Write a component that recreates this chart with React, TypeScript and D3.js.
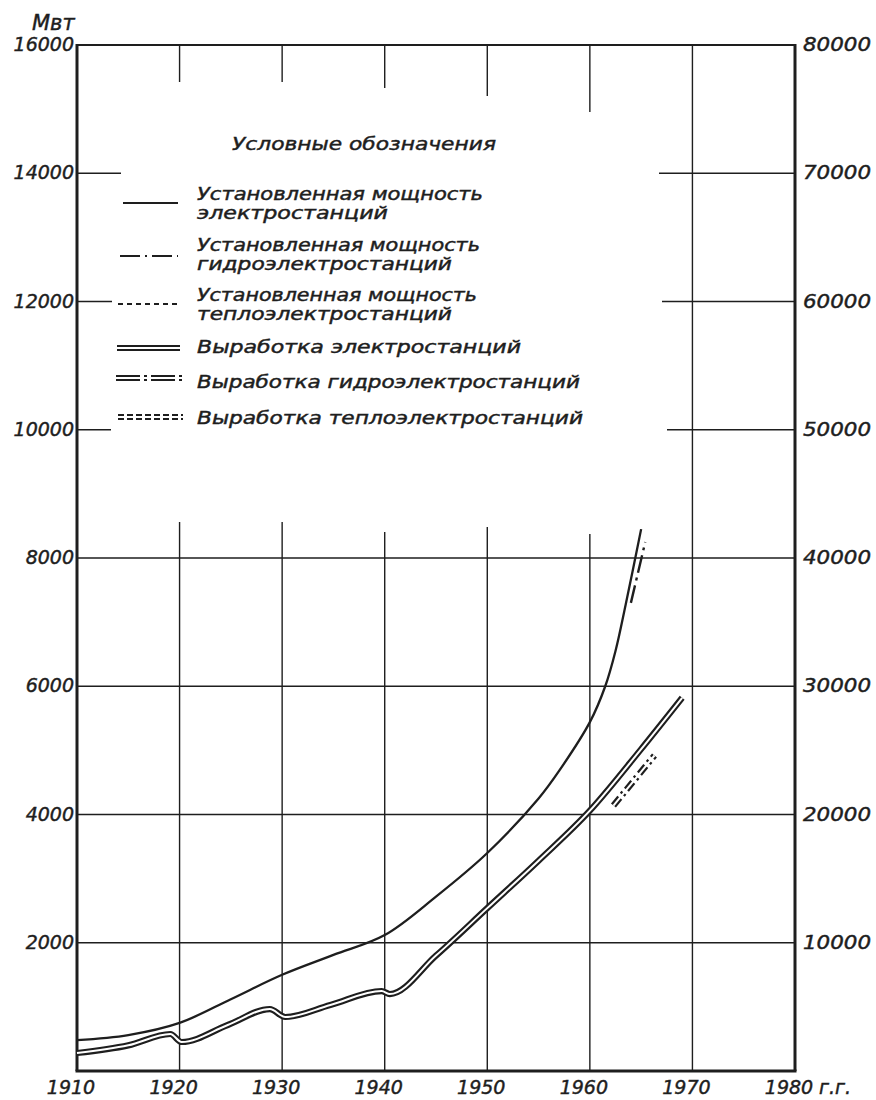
import React from "react";
import * as d3 from "d3";

// установленная мощность электростанций, Мвт (левая шкала)
const capYears = [1910, 1915, 1920, 1925, 1930, 1935, 1940, 1945, 1950, 1955, 1957, 1960, 1961.5, 1962.5, 1963.5, 1965];
const capTotal = [480, 560, 750, 1120, 1500, 1810, 2120, 2720, 3400, 4250, 4680, 5440, 6000, 6550, 7280, 8450];

// установленная мощность ГЭС (короткий отрезок)
const hydroCapYears = [1964.0, 1965.4];
const hydroCap = [7300, 8250];

// выработка электростанций, млн. квт-ч (правая шкала)
const genYears = [1910, 1915, 1919.1, 1920.2, 1924.7, 1928.8, 1930.3, 1934.7, 1939.7, 1940.5, 1945, 1950, 1955, 1960, 1965, 1969];
const genTotal = [1400, 2000, 2885, 2260, 3585, 4830, 4210, 5150, 6235, 6000, 9000, 12700, 16400, 20300, 25100, 29100];

// выработка ГЭС (короткий отрезок)
const hydroGenYears = [1962.3, 1966.3];
const hydroGen = [20700, 24600];

const yearTicks = [1910, 1920, 1930, 1940, 1950, 1960, 1970, 1980];
const leftTicks = [2000, 4000, 6000, 8000, 10000, 12000, 14000, 16000];
const rightTicks = [10000, 20000, 30000, 40000, 50000, 60000, 70000, 80000];

const legendTitle = "Условные обозначения";
const legendItems = [
  ["Установленная мощность", "электростанций"],
  ["Установленная мощность", "гидроэлектростанций"],
  ["Установленная мощность", "теплоэлектростанций"],
  ["Выработка электростанций"],
  ["Выработка гидроэлектростанций"],
  ["Выработка теплоэлектростанций"],
];

const W = 876, H = 1100;
const L = 77, R = 795, T = 45, B = 1071;
const FONT = "'DejaVu Sans', sans-serif";
const INK = "#1e1e1e";

// где сетка прерывается легендой
const hGridParts: Record<number, number[][]> = {
  14000: [[L, 121], [659, R]],
  12000: [[L, 112], [662, R]],
  10000: [[L, 111], [667, R]],
};
const vGridParts: Record<number, number[][]> = {
  1920: [[T, 82], [522, B]],
  1930: [[T, 82], [522, B]],
  1940: [[T, 88], [532, B]],
  1950: [[T, 96], [527, B]],
  1960: [[T, 112], [534, B]],
};

// разметка легенды
const legendLayout = [
  { y: 203, x0: 123, x1: 178, dash: "", double: false, ty: [200, 219], tw: [286, 191] },
  { y: 256, x0: 120, x1: 178, dash: "20,5,2,5", double: false, ty: [251, 270], tw: [283, 255] },
  { y: 304, x0: 118, x1: 180, dash: "5,4", double: false, ty: [301, 320], tw: [280, 255] },
  { y: 348, x0: 117, x1: 180, dash: "", double: true, ty: [353], tw: [324] },
  { y: 378, x0: 116, x1: 182, dash: "24,4,3,4", double: true, ty: [388], tw: [383] },
  { y: 417, x0: 118, x1: 183, dash: "6,3", double: true, ty: [424], tw: [386] },
];

export default function App() {
  const x = d3.scaleLinear().domain([1910, 1980]).range([L, R]);
  const yL = d3.scaleLinear().domain([0, 16000]).range([B, T]);
  const yR = d3.scaleLinear().domain([0, 80000]).range([B, T]);

  const capPath =
    d3.line<number>().x((d, i) => x(capYears[i])).y((d) => yL(d)).curve(d3.curveCatmullRom.alpha(0.5))(capTotal) || "";
  const hydroCapPath = d3.line<number>().x((d, i) => x(hydroCapYears[i])).y((d) => yL(d))(hydroCap) || "";
  const genPath =
    d3.line<number>().x((d, i) => x(genYears[i])).y((d) => yR(d)).curve(d3.curveMonotoneX)(genTotal) || "";
  const hydroGenPath = d3.line<number>().x((d, i) => x(hydroGenYears[i])).y((d) => yR(d))(hydroGen) || "";

  const txt = { fontFamily: FONT, fontStyle: "italic" as const, fill: INK, stroke: INK, strokeWidth: 0.45 };

  return (
    <div style={{ position: "absolute", left: 0, top: 0 }}>
      <svg width={W} height={H} viewBox={`0 0 ${W} ${H}`} style={{ display: "block", background: "#fff" }}>
        {/* горизонтальная сетка */}
        {leftTicks.filter((t) => t < 16000).map((t) => {
          const parts = hGridParts[t] || [[L, R]];
          return parts.map((p, j) => (
            <line key={`h${t}-${j}`} x1={p[0]} x2={p[1]} y1={yL(t)} y2={yL(t)} stroke={INK} strokeWidth={1.4} />
          ));
        })}
        {/* вертикальная сетка */}
        {yearTicks.filter((t) => t > 1910 && t < 1980).map((t) => {
          const parts = vGridParts[t] || [[T, B]];
          return parts.map((p, j) => (
            <line key={`v${t}-${j}`} x1={x(t)} x2={x(t)} y1={p[0]} y2={p[1]} stroke={INK} strokeWidth={1.4} />
          ));
        })}

        {/* рамка */}
        <line x1={L} x2={R} y1={T} y2={T} stroke={INK} strokeWidth={2} />
        <line x1={L} x2={L} y1={T - 1} y2={B} stroke={INK} strokeWidth={3} />
        <line x1={R} x2={R} y1={T - 1} y2={B} stroke={INK} strokeWidth={3} />
        <line x1={L - 1.5} x2={R + 1.5} y1={B} y2={B} stroke={INK} strokeWidth={3} />

        {/* кривые */}
        <path d={capPath} fill="none" stroke={INK} strokeWidth={2.3} />
        <path d={hydroCapPath} fill="none" stroke={INK} strokeWidth={2.4} strokeDasharray="18,5,3,5" />
        <path d={genPath} fill="none" stroke={INK} strokeWidth={6.2} />
        <path d={genPath} fill="none" stroke="#fff" strokeWidth={2} />
        <path d={hydroGenPath} fill="none" stroke={INK} strokeWidth={6.4} strokeDasharray="10,4,2.5,4" />
        <path d={hydroGenPath} fill="none" stroke="#fff" strokeWidth={2} />

        {/* подписи осей */}
        {leftTicks.map((t) => (
          <text key={`l${t}`} x={L - 3} y={yL(t) - 1} textAnchor="end" dominantBaseline="central" fontSize={19} {...txt}>
            {t}
          </text>
        ))}
        {rightTicks.map((t) => (
          <text key={`r${t}`} x={R + 8} y={yR(t) - 1} textAnchor="start" dominantBaseline="central" fontSize={19} {...txt} textLength={68} lengthAdjust="spacingAndGlyphs">
            {t}
          </text>
        ))}
        {yearTicks.map((t) => (
          <text key={`x${t}`} x={x(t) - 6} y={1094} textAnchor="middle" fontSize={19} {...txt}>
            {t}
          </text>
        ))}
        <text x={x(1980) + 24} y={1094} fontSize={19} {...txt}>г.г.</text>
        <text x={32} y={30} fontSize={21} {...txt}>Мвт</text>

        {/* легенда */}
        <text x={232} y={150} fontSize={18} {...txt} textLength={264} lengthAdjust="spacingAndGlyphs">
          {legendTitle}
        </text>
        {legendItems.map((lines, i) => {
          const lay = legendLayout[i];
          return (
            <g key={`lg${i}`}>
              {lay.double ? (
                <>
                  <line x1={lay.x0} x2={lay.x1} y1={lay.y} y2={lay.y} stroke={INK} strokeWidth={6} strokeDasharray={lay.dash || undefined} />
                  <line x1={lay.x0} x2={lay.x1} y1={lay.y} y2={lay.y} stroke="#fff" strokeWidth={2} />
                </>
              ) : (
                <line x1={lay.x0} x2={lay.x1} y1={lay.y} y2={lay.y} stroke={INK} strokeWidth={2.2} strokeDasharray={lay.dash || undefined} />
              )}
              {lines.map((s, j) => (
                <text key={j} x={197} y={lay.ty[j]} fontSize={17} {...txt} textLength={lay.tw[j]} lengthAdjust="spacingAndGlyphs">
                  {s}
                </text>
              ))}
            </g>
          );
        })}
      </svg>
    </div>
  );
}
